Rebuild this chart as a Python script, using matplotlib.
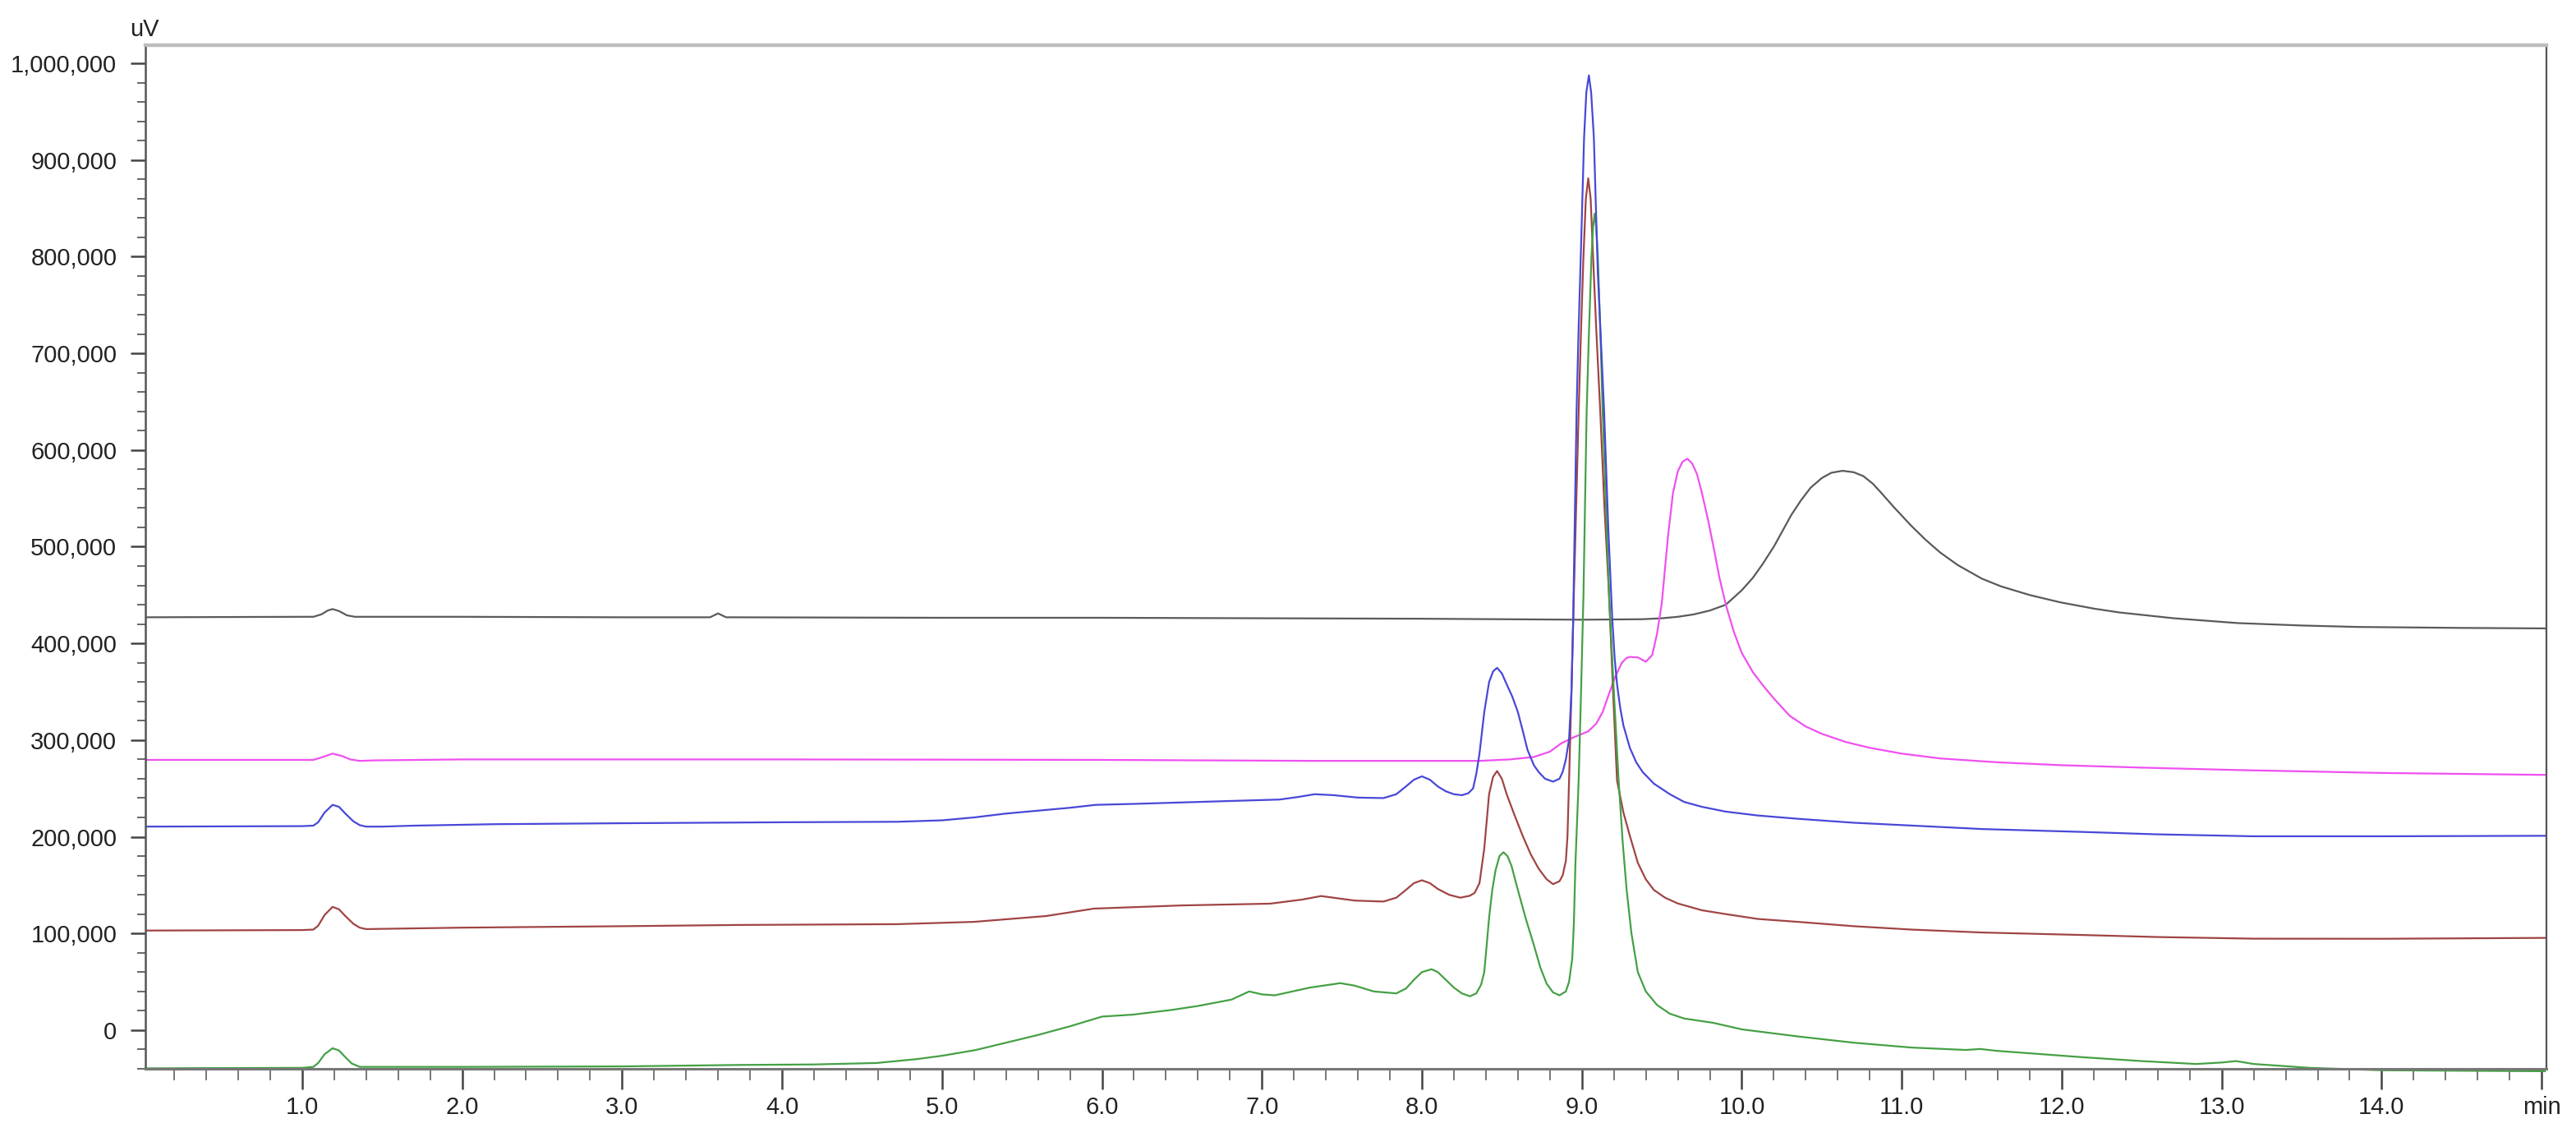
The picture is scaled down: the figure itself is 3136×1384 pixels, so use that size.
import matplotlib
matplotlib.use("Agg")
import matplotlib.pyplot as plt
from matplotlib.ticker import FixedLocator, FuncFormatter, MultipleLocator

# ---------------- data ----------------
black_t = [0.02, 1.0, 1.07, 1.12, 1.16, 1.19, 1.23, 1.28, 1.33, 2.0, 3.0, 3.55, 3.6, 3.65, 5.0,
           6.0, 7.0, 8.0, 8.5, 9.0, 9.38, 9.5, 9.6, 9.7, 9.8, 9.9, 10.0, 10.07, 10.13, 10.2, 10.25,
           10.31, 10.37, 10.43, 10.5, 10.56, 10.63, 10.7, 10.76, 10.82, 10.87, 10.95, 11.06, 11.15,
           11.24, 11.35, 11.5, 11.62, 11.8, 11.99, 12.2, 12.36, 12.7, 13.1, 13.5, 13.85, 14.5, 15.02]
black_v = [427000, 427500, 427500, 430000, 434000, 435500, 433500, 429000, 427500, 427500, 427000,
           427000, 431000, 427000, 426500, 426500, 426000, 425500, 425000, 424500, 425000, 426000,
           427500, 430000, 434000, 440000, 455000, 468000, 482000, 500000, 515000, 533000, 548000,
           561000, 571000, 576500, 578500, 577000, 573000, 565000, 556000, 541000, 521500, 507000,
           494000, 481000, 467000, 459000, 450000, 442500, 436000, 432000, 426000, 421000, 418500,
           417000, 416000, 415500]

pink_t = [0.02, 1.07, 1.12, 1.19, 1.25, 1.30, 1.36, 1.45, 2.0, 4.0, 6.0, 7.33, 8.0, 8.36, 8.55,
          8.70, 8.80, 8.87, 8.95, 9.04, 9.09, 9.13, 9.17, 9.21, 9.25, 9.28, 9.30, 9.35, 9.40, 9.44,
          9.47, 9.50, 9.52, 9.54, 9.57, 9.60, 9.63, 9.66, 9.69, 9.72, 9.75, 9.79, 9.83, 9.86, 9.90,
          9.95, 10.0, 10.07, 10.13, 10.2, 10.3, 10.4, 10.5, 10.65, 10.8, 11.0, 11.24, 11.6, 12.0,
          12.5, 13.1, 14.0, 15.02]
pink_v = [279500, 279500, 282000, 286000, 283500, 280000, 278500, 279000, 280000, 280000, 279500,
          278500, 278500, 278500, 280000, 282500, 288000, 296500, 303000, 309000, 317000, 329000,
          348000, 366000, 380000, 385000, 386000, 385500, 381000, 388000, 410000, 442000, 478000,
          513000, 556000, 578000, 588000, 591000, 586000, 575000, 556000, 527000, 494000, 468000,
          440000, 412000, 390000, 370000, 357000, 343000, 325000, 314000, 306500, 298000, 292000,
          286000, 281000, 277000, 274000, 271500, 269000, 266000, 264000]

blue_t = [0.02, 1.0, 1.07, 1.10, 1.14, 1.19, 1.23, 1.27, 1.32, 1.36, 1.40, 1.5, 1.7, 2.2, 3.0,
          4.0, 4.72, 5.0, 5.2, 5.4, 5.6, 5.8, 5.96, 6.2, 6.5, 6.8, 7.11, 7.22, 7.33, 7.45, 7.6,
          7.76, 7.84, 7.90, 7.95, 8.0, 8.05, 8.10, 8.15, 8.20, 8.25, 8.29, 8.32, 8.34, 8.36, 8.39,
          8.42, 8.445, 8.47, 8.50, 8.53, 8.565, 8.60, 8.63, 8.66, 8.70, 8.73, 8.77, 8.82, 8.86,
          8.88, 8.90, 8.92, 8.935, 8.946, 8.955, 8.967, 8.978, 8.99, 9.0, 9.014, 9.028, 9.044,
          9.058, 9.075, 9.088, 9.10, 9.12, 9.139, 9.165, 9.19, 9.205, 9.22, 9.24, 9.26, 9.30,
          9.34, 9.38, 9.45, 9.55, 9.64, 9.75, 9.9, 10.1, 10.35, 10.7, 11.06, 11.5, 12.13, 12.6,
          13.2, 14.0, 15.02]
blue_v = [210500, 211000, 211500, 215000, 225000, 233000, 231000, 224000, 216000, 212000, 210500,
          210500, 211500, 213000, 214000, 215000, 215500, 217000, 220000, 224000, 227000, 230000,
          233000, 234000, 235500, 237000, 238500, 241000, 244000, 243000, 240500, 240000, 244000,
          252000, 259000, 262500, 259000, 252000, 247000, 244000, 243000, 245000, 250000, 265000,
          286000, 329000, 360000, 371000, 374700, 369000, 357700, 345000, 329000, 310000, 290000,
          274000, 267000, 260000, 257000, 260000, 267000, 280000, 300800, 350000, 425600, 520000,
          640600, 715000, 782500, 840000, 923500, 970000, 987500, 970000, 923500, 850000, 782500,
          710000, 640600, 520000, 425600, 385000, 357700, 333000, 315000, 292000, 277000, 267000,
          255000, 244000, 236000, 231000, 226000, 222000, 218600, 214500, 211600, 208000, 205000,
          202500, 200500, 200500, 201000]

red_t = [0.02, 1.0, 1.07, 1.10, 1.14, 1.19, 1.23, 1.27, 1.32, 1.36, 1.40, 2.0, 3.0, 3.74, 4.72,
         5.2, 5.65, 5.95, 6.5, 7.05, 7.25, 7.37, 7.58, 7.76, 7.84, 7.90, 7.95, 8.0, 8.05, 8.10,
         8.17, 8.24, 8.30, 8.33, 8.36, 8.39, 8.42, 8.445, 8.47, 8.50, 8.53, 8.58, 8.63, 8.68, 8.73,
         8.78, 8.82, 8.86, 8.88, 8.90, 8.91, 8.92, 8.935, 8.95, 8.965, 8.98, 8.995, 9.01, 9.025,
         9.04, 9.055, 9.07, 9.09, 9.115, 9.14, 9.17, 9.195, 9.22, 9.26, 9.30, 9.35, 9.40, 9.45,
         9.52, 9.60, 9.75, 9.9, 10.1, 10.35, 10.7, 11.06, 11.5, 12.13, 12.6, 13.2, 14.0, 15.02]
red_v = [103000, 103500, 104000, 108000, 119000, 127500, 125000, 118000, 110000, 106000, 104500,
         106000, 107500, 108800, 109600, 112000, 118000, 125700, 129000, 130800, 135000, 138700,
         134000, 133000, 137000, 145000, 152000, 155000, 152000, 146000, 140000, 137000, 139000,
         142000, 152000, 188000, 244000, 262000, 268000, 260000, 244000, 222000, 201000, 182000,
         167000, 156000, 151000, 154000, 160000, 175000, 200000, 258000, 350000, 450000, 545000,
         640000, 725000, 800000, 860000, 881000, 860000, 800000, 725000, 640000, 545000, 450000,
         350000, 258000, 225000, 201000, 173000, 156000, 145000, 137000, 131000, 124000, 120000,
         115000, 112000, 107500, 104000, 101000, 98400, 96300, 94600, 94500, 95400]

green_t = [0.02, 1.0, 1.07, 1.10, 1.14, 1.19, 1.23, 1.27, 1.31, 1.36, 2.0, 3.0, 3.74, 4.2, 4.59,
           4.84, 5.0, 5.21, 5.4, 5.60, 5.8, 6.0, 6.19, 6.44, 6.6, 6.81, 6.92, 7.0, 7.08, 7.30, 7.49,
           7.58, 7.70, 7.84, 7.90, 7.95, 8.0, 8.06, 8.10, 8.15, 8.20, 8.25, 8.30, 8.34, 8.37, 8.39,
           8.42, 8.44, 8.46, 8.485, 8.51, 8.535, 8.56, 8.60, 8.65, 8.70, 8.74, 8.78, 8.82, 8.86,
           8.90, 8.92, 8.94, 8.95, 8.96, 8.98, 8.995, 9.01, 9.02, 9.03, 9.045, 9.06, 9.07, 9.08,
           9.09, 9.10, 9.115, 9.13, 9.15, 9.17, 9.20, 9.23, 9.255, 9.28, 9.31, 9.35, 9.40, 9.47,
           9.55, 9.64, 9.82, 10.0, 10.35, 10.7, 11.06, 11.4, 11.49, 11.6, 12.13, 12.5, 12.84, 13.0,
           13.09, 13.2, 13.55, 14.0, 15.02]
green_v = [-39500, -39000, -38000, -34000, -25000, -18700, -21000, -28000, -34500, -38000, -38000,
           -37500, -36000, -35500, -34000, -30000, -26500, -20600, -13000, -5000, 4000, 14000,
           16000, 21000, 25000, 31600, 40000, 37000, 36000, 44000, 48600, 46000, 40000, 38000,
           43000, 52000, 60000, 63000, 60000, 52000, 44000, 38000, 35000, 38000, 47000, 60000,
           116000, 145000, 165000, 180000, 184000, 180000, 170000, 145000, 115000, 88000, 65000,
           48000, 39000, 36000, 40000, 50000, 74000, 110000, 173000, 258000, 350000, 450000,
           545000, 640000, 725000, 800000, 830000, 844500, 830000, 800000, 725000, 640000, 545000,
           450000, 350000, 258000, 195000, 145000, 100000, 60000, 40000, 26000, 17000, 12000, 7600,
           800, -6500, -13000, -18000, -20500, -19500, -21500, -28000, -32000, -35000, -33500,
           -32000, -35000, -39000, -41500, -42500]

x_major = [1, 2, 3, 4, 5, 6, 7, 8, 9, 10, 11, 12, 13, 14, 15]
x_labels = ["1.0", "2.0", "3.0", "4.0", "5.0", "6.0", "7.0", "8.0", "9.0", "10.0",
            "11.0", "12.0", "13.0", "14.0", "min"]
y_major = [0, 100000, 200000, 300000, 400000, 500000, 600000, 700000, 800000, 900000, 1000000]

# ---------------- figure ----------------
plt.rcParams['font.family'] = ['Liberation Sans', 'DejaVu Sans']
fig = plt.figure(figsize=(15.68, 6.92), dpi=200)
ax = fig.add_axes([177 / 3136, 1 - 1301 / 1384, (3100 - 177) / 3136, (1301 - 55) / 1384])

lw = 0.8
ax.plot(black_t, black_v, color='#5a5a5a', lw=lw)
ax.plot(pink_t, pink_v, color='#f050f0', lw=lw)
ax.plot(red_t, red_v, color='#a04444', lw=lw)
ax.plot(green_t, green_v, color='#45a045', lw=lw, clip_on=False)
ax.plot(blue_t, blue_v, color='#4848d8', lw=lw)

ax.set_xlim(0.02, 15.03)
ax.set_ylim(-40000, 1018700)

ax.xaxis.set_major_locator(FixedLocator(x_major))
ax.set_xticklabels(x_labels)
ax.xaxis.set_minor_locator(MultipleLocator(0.2))
ax.yaxis.set_major_locator(FixedLocator(y_major))
ax.yaxis.set_major_formatter(FuncFormatter(lambda v, p: f"{int(round(v)):,}"))
ax.yaxis.set_minor_locator(MultipleLocator(20000))

tc = '#444444'
fs = 10.5
ax.tick_params(axis='x', which='major', direction='out', length=9, width=0.9, color=tc,
               labelsize=fs, pad=3, labelcolor='#222222')
ax.tick_params(axis='x', which='minor', direction='out', length=5, width=0.7, color='#777777')
ax.tick_params(axis='y', which='major', direction='out', length=6.5, width=0.9, color=tc,
               labelsize=fs, pad=6, labelcolor='#222222')
ax.tick_params(axis='y', which='minor', direction='out', length=3.5, width=0.7, color='#666666')

ax.spines['top'].set_color('#bdbdbd')
ax.spines['top'].set_linewidth(1.6)
ax.spines['right'].set_color('#555555')
ax.spines['right'].set_linewidth(0.8)
ax.spines['left'].set_color('#555555')
ax.spines['left'].set_linewidth(0.9)
ax.spines['bottom'].set_color('#777777')
ax.spines['bottom'].set_linewidth(1.1)

fig.text(158 / 3136, 1 - 36 / 1384, "uV", ha='left', va='center', fontsize=fs, color='#222222')

fig.savefig("out.png", dpi=200, facecolor='white')
